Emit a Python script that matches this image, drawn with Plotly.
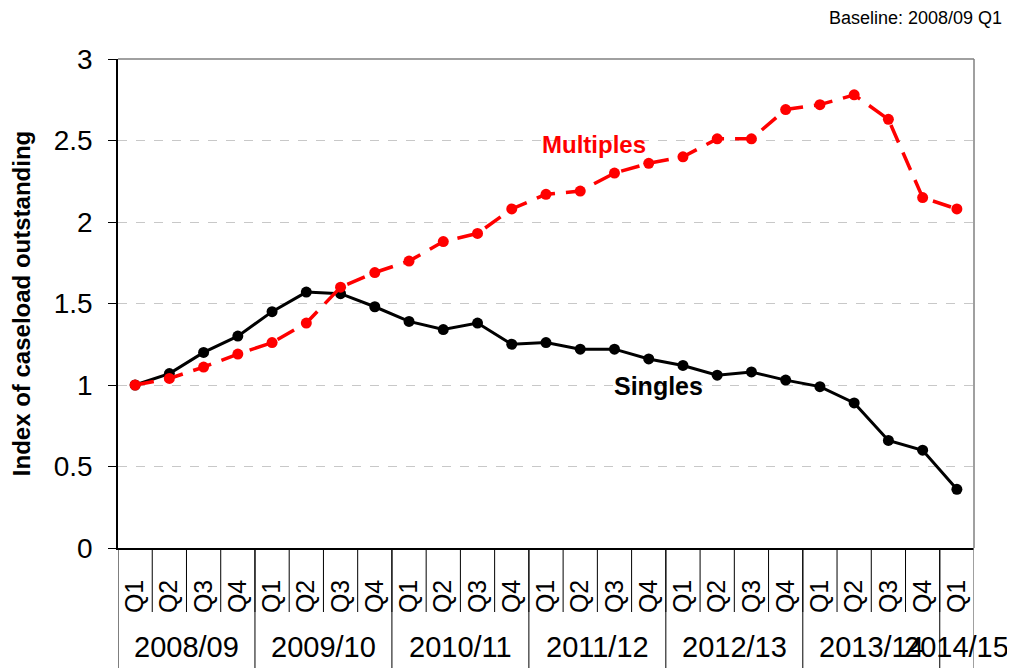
import plotly.graph_objects as go

years = ["2008/09"] * 4 + ["2009/10"] * 4 + ["2010/11"] * 4 + ["2011/12"] * 4 + ["2012/13"] * 4 + ["2013/14"] * 4 + ["2014/15"]
quarters = ["Q1", "Q2", "Q3", "Q4"] * 6 + ["Q1"]

singles = [1.00, 1.07, 1.20, 1.30, 1.45, 1.57, 1.56, 1.48, 1.39, 1.34, 1.38, 1.25,
           1.26, 1.22, 1.22, 1.16, 1.12, 1.06, 1.08, 1.03, 0.99, 0.89, 0.66, 0.60, 0.36]
multiples = [1.00, 1.04, 1.11, 1.19, 1.26, 1.38, 1.60, 1.69, 1.76, 1.88, 1.93, 2.08,
             2.17, 2.19, 2.30, 2.36, 2.40, 2.51, 2.51, 2.69, 2.72, 2.78, 2.63, 2.15, 2.08]

FONT = "Liberation Sans, Arial, sans-serif"

cats = [f"{y} {q}" for y, q in zip(years, quarters)]
n = len(cats)

fig = go.Figure()
fig.add_trace(go.Scatter(
    x=cats, y=singles, mode="lines+markers", name="Singles",
    line=dict(color="black", width=3), marker=dict(color="black", size=11),
))
fig.add_trace(go.Scatter(
    x=cats, y=multiples, mode="lines+markers", name="Multiples",
    line=dict(color="#ff0000", width=3.5, dash="19px,11px"), marker=dict(color="#ff0000", size=11),
))

fig.add_annotation(x=13.39, y=2.475, text="<b>Multiples</b>", showarrow=False,
                   font=dict(color="#ff0000", size=24, family=FONT), xanchor="center")
fig.add_annotation(x=15.3, y=0.996, text="<b>Singles</b>", showarrow=False,
                   font=dict(color="black", size=25, family=FONT), xanchor="center")
fig.add_annotation(xref="paper", yref="paper", x=1.035, y=1.084, text="Baseline: 2008/09 Q1",
                   showarrow=False, xanchor="right", yanchor="middle",
                   font=dict(color="black", size=18, family=FONT))

PLOT_H = 660 - 51 - 120
cell_y = -64 / PLOT_H
bottom_y = -120 / PLOT_H

# group year labels and dividers
groups = []
for i, y in enumerate(years):
    if not groups or groups[-1][0] != y:
        groups.append([y, i, i])
    else:
        groups[-1][2] = i
for y, i0, i1 in groups:
    fig.add_annotation(x=(i0 + i1) / 2, y=-99 / PLOT_H, xref="x", yref="paper", text=y,
                       showarrow=False, xanchor="center", yanchor="middle",
                       font=dict(color="black", size=29, family=FONT))
    fig.add_shape(type="line", xref="x", yref="paper", x0=i0 - 0.5, x1=i0 - 0.5,
                  y0=0, y1=bottom_y, line=dict(color="black", width=1))
fig.add_shape(type="line", xref="x", yref="paper", x0=n - 0.5, x1=n - 0.5,
              y0=0, y1=bottom_y, line=dict(color="#808080", width=1.5))
for i in range(n - 1):
    fig.add_shape(type="line", xref="x", yref="paper", x0=i + 0.5, x1=i + 0.5,
                  y0=0, y1=cell_y, line=dict(color="black", width=1))

fig.update_layout(
    width=1007, height=660,
    margin=dict(l=110, r=41, t=51, b=120),
    paper_bgcolor="white", plot_bgcolor="white",
    showlegend=False,
    font=dict(family=FONT, color="black"),
    xaxis=dict(
        type="category", range=[-0.5, n - 0.5], tickangle=-90, tickfont=dict(size=25),
        tickmode="array", tickvals=cats, ticktext=quarters,
        showline=True, linecolor="black", linewidth=1.5, mirror=False,
        ticks="", showgrid=False, ticklabelstandoff=20,
    ),
    yaxis=dict(
        range=[0, 3], dtick=0.5, tickfont=dict(size=28),
        showline=True, linecolor="black", linewidth=1.5,
        ticks="outside", ticklen=8, tickcolor="black",
        showgrid=True, gridcolor="#c8c8c8", griddash="dash", gridwidth=1,
        zeroline=False, ticklabelstandoff=10,
        title=dict(text="<b>Index of caseload outstanding</b>", font=dict(size=24), standoff=16),
    ),
)
fig.add_shape(type="line", xref="paper", yref="paper", x0=0, x1=1, y0=1, y1=1,
              line=dict(color="#808080", width=1.5))
fig.add_shape(type="line", xref="paper", yref="paper", x0=1, x1=1, y0=0, y1=1,
              line=dict(color="#808080", width=1.5))

fig.write_html("out.html")
